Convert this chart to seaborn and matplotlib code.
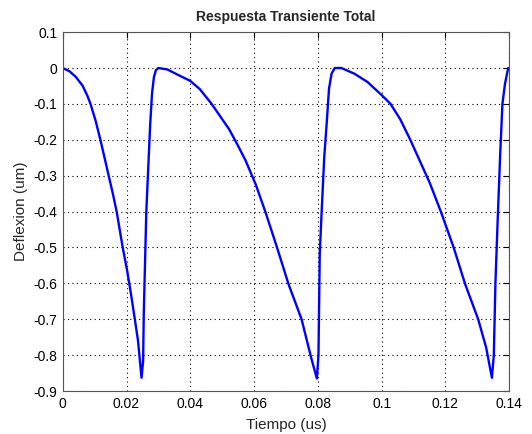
import matplotlib
matplotlib.use("Agg")
import matplotlib.pyplot as plt
import seaborn as sns
import pandas as pd

tiempo = [0.0, 0.0021, 0.0041, 0.0062, 0.0077, 0.0087, 0.0103, 0.0118, 0.0131, 0.0144, 0.0157,
          0.0169, 0.0188, 0.0202, 0.0214, 0.0226, 0.0236, 0.0247,
          0.0252, 0.0254, 0.0262, 0.0268, 0.0274, 0.0280, 0.0286, 0.0292, 0.0300,
          0.0328, 0.0359, 0.0400, 0.0430, 0.0466, 0.0491, 0.0522, 0.0547, 0.0573, 0.0605,
          0.0636, 0.0672, 0.0708, 0.0749, 0.0779, 0.0797,
          0.0802, 0.0806, 0.0812, 0.0820, 0.0828, 0.0835, 0.0843, 0.0853,
          0.0874, 0.0915, 0.0956, 0.1002, 0.1028, 0.1058, 0.1089, 0.1120, 0.1151,
          0.1185, 0.1226, 0.1262, 0.1303, 0.1328, 0.1346,
          0.1352, 0.1357, 0.1364, 0.1372, 0.1379, 0.1387, 0.1397]
deflexion = [0.0, -0.009, -0.025, -0.049, -0.077, -0.10, -0.147, -0.20, -0.25, -0.30, -0.35,
             -0.40, -0.50, -0.565, -0.63, -0.70, -0.76, -0.863,
             -0.817, -0.686, -0.40, -0.28, -0.16, -0.07, -0.025, -0.006, 0.0,
             -0.004, -0.018, -0.036, -0.059, -0.099, -0.131, -0.171, -0.212, -0.257, -0.324,
             -0.402, -0.50, -0.602, -0.70, -0.807, -0.865,
             -0.80, -0.519, -0.40, -0.25, -0.151, -0.058, -0.016, 0.0,
             0.0, -0.016, -0.039, -0.077, -0.10, -0.142, -0.198, -0.259, -0.32,
             -0.398, -0.50, -0.602, -0.70, -0.779, -0.863,
             -0.80, -0.60, -0.426, -0.24, -0.10, -0.044, 0.0]

xticks = [0, 0.02, 0.04, 0.06, 0.08, 0.1, 0.12, 0.14]
xticklabels = ["0", "0.02", "0.04", "0.06", "0.08", "0.1", "0.12", "0.14"]
yticks = [0.1, 0, -0.1, -0.2, -0.3, -0.4, -0.5, -0.6, -0.7, -0.8, -0.9]
yticklabels = ["0.1", "0", "-0.1", "-0.2", "-0.3", "-0.4", "-0.5", "-0.6", "-0.7", "-0.8", "-0.9"]

sns.set_style("white")
plt.rcParams['font.family'] = ['Liberation Sans', 'DejaVu Sans']

fig = plt.figure(figsize=(5.32, 4.34), dpi=100)
ax = fig.add_axes([0.118, 0.099, 0.839, 0.827])

df = pd.DataFrame({"t": tiempo, "y": deflexion})
sns.lineplot(data=df, x="t", y="y", sort=False, color="#0000ff", linewidth=1.7, ax=ax)

ax.set_xlim(0, 0.14)
ax.set_ylim(-0.9, 0.1)
ax.set_xticks(xticks)
ax.set_xticklabels(xticklabels)
ax.set_yticks(yticks)
ax.set_yticklabels(yticklabels)
ax.tick_params(direction="in", top=True, right=True, length=4, width=0.8, labelsize=10, colors="black", pad=4)
ax.grid(True, linestyle=(0, (1, 3)), color="black", linewidth=0.8)
for s in ax.spines.values():
    s.set_color("#555555")
    s.set_linewidth(0.8)
    s.set_visible(True)

ax.set_xlabel("Tiempo (us)", fontsize=11, labelpad=5)
ax.set_ylabel("Deflexion (um)", fontsize=11, labelpad=4)
ax.set_title("Respuesta Transiente Total", fontsize=10, fontweight="bold", pad=8)

fig.savefig("out.png", dpi=100, facecolor="white")
